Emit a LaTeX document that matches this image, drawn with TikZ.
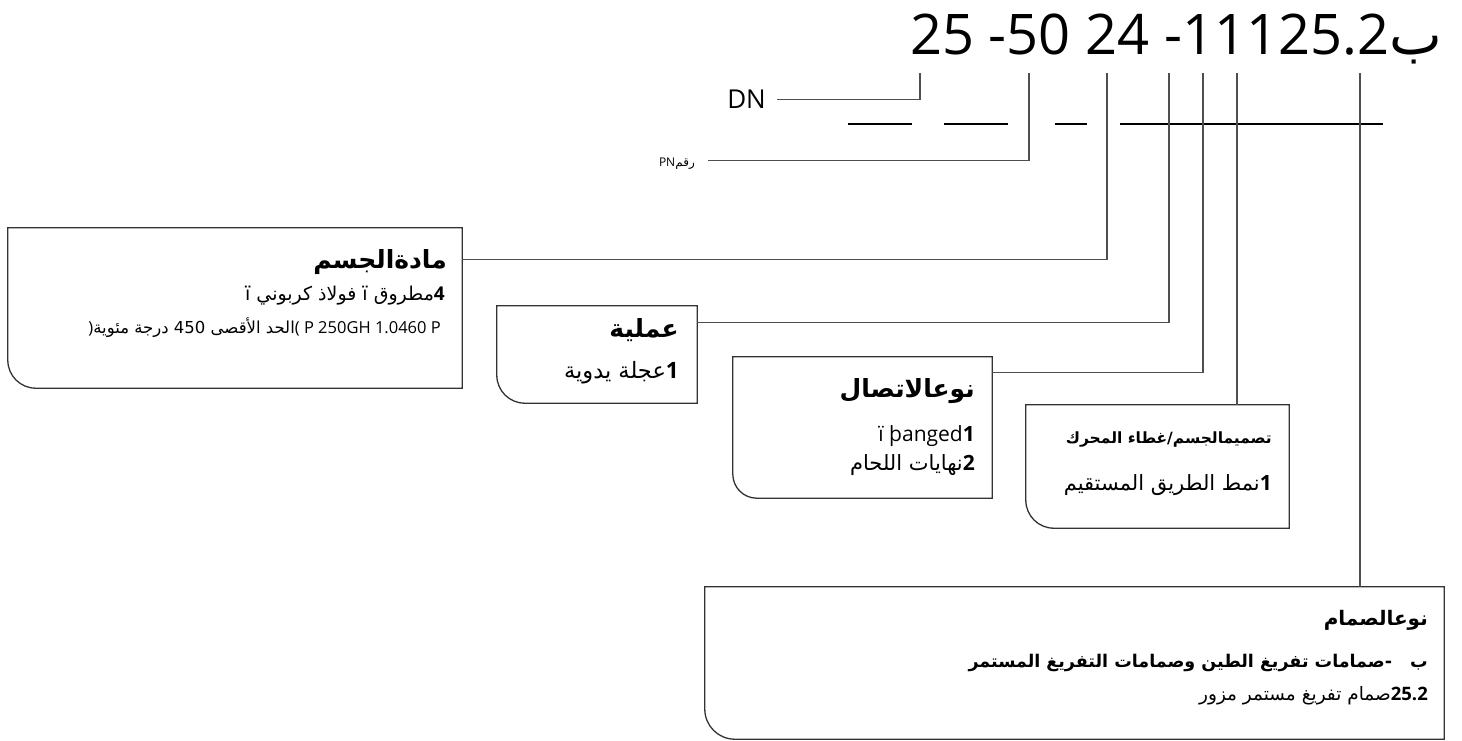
\documentclass[tikz,border=0pt]{standalone}
\usepackage{fontspec}
\usepackage{tikz}
\usetikzlibrary{positioning}
\setmainfont{Open Sans}
\newfontfamily\arabicfont[Script=Arabic]{DejaVu Sans}
\TeXXeTstate=1
\definecolor{LeadGray}{HTML}{4F4F4F}
\definecolor{CardEdge}{HTML}{333333}
\newcommand{\cardedge}[2][28pt]{%
  \draw[cardline] (#2.north west) -- (#2.north east) -- (#2.south east)
    -- ([xshift=#1]#2.south west) arc[start angle=270, end angle=180, radius=#1] -- cycle;}
\tikzset{
  card/.style={draw=none, inner sep=0pt},
  cardline/.style={draw=CardEdge, line width=1.3pt},
  lead/.style={draw=LeadGray, line width=1.2pt},
  blank/.style={draw=black, line width=2.4pt},
  codetext/.style={inner sep=0pt, anchor=base west, font=\fontsize{56}{60}\selectfont},
  tag/.style={inner sep=0pt, anchor=base east},
  bighead/.style={tag, font=\arabicfont\bfseries\fontsize{25}{28}\selectfont},
  smallhead/.style={tag, font=\arabicfont\bfseries\fontsize{15.5}{19}\selectfont},
  entry/.style={tag, font=\fontsize{21}{24}\selectfont},
  fine/.style={tag, font=\fontsize{16.5}{19}\selectfont}
}

\begin{document}
\begin{tikzpicture}[x=1pt, y=-1pt]
  \useasboundingbox (0,0) rectangle (1462,741);
  % order code
  \node[codetext] (code) at (910,55) {25 -50 24 -11125.2{\arabicfont ب}};
  \foreach \a/\b in {848/912, 944/1008, 1055/1087, 1120/1383}
    \draw[blank] (\a,124) -- (\b,124);
  \coordinate (t25) at (920,73);
  \coordinate (t50) at (1029,73);
  \coordinate (t24) at (1107,73);
  \coordinate (t11a) at (1169,73);
  \coordinate (t11b) at (1203,73);
  \coordinate (t11c) at (1237,73);
  \coordinate (tval) at (1360,73);

  \node[tag, font=\fontsize{26}{30}\selectfont] (dn) at (766,109) {DN};
  \node[tag, font=\fontsize{12}{14}\selectfont] (pn) at (695,167) {PN{\arabicfont\beginR رقم\endR}};

  % cards
  \node[card, minimum width=454pt, minimum height=160pt] (matbox) at (235,308) {};
  \node[card, minimum width=200pt, minimum height=97pt] (opbox) at (597,354.5) {};
  \node[card, minimum width=259pt, minimum height=141pt] (conbox) at (862.5,427.5) {};
  \node[card, minimum width=263pt, minimum height=123pt] (desbox) at (1157.5,466.5) {};
  \node[card, minimum width=739pt, minimum height=152pt] (typebox) at (1074.5,663) {};
  \cardedge{matbox}
  \cardedge{opbox}
  \cardedge[24pt]{conbox}
  \cardedge{desbox}
  \cardedge[30pt]{typebox}

  % body material
  \node[bighead] (mathead) at (447,268) {\beginR مادةالجسم\endR};
  \node[entry, font=\fontsize{19}{22}\selectfont] (matone) at (445,300) {\beginR\textbf{4}{\arabicfont مطروق ï فولاذ كربوني ï}\endR};
  \node[fine] (mattwo) at (441,333) {){\arabicfont\beginR الحد الأقصى 450 درجة مئوية\endR}( P 250GH 1.0460 P};
  % operation
  \node[bighead] (ophead) at (679,337) {\beginR عملية\endR};
  \node[entry, font=\fontsize{22.5}{26}\selectfont] (opone) at (679,378) {\beginR\textbf{1}{\arabicfont عجلة يدوية}\endR};
  % connection
  \node[bighead] (conhead) at (975,397) {\beginR نوعالاتصال\endR};
  \node[entry] (conone) at (975,441) {ï þanged\textbf{1}};
  \node[entry] (contwo) at (975,470) {\beginR\textbf{2}{\arabicfont نهايات اللحام}\endR};
  % body design / bonnet
  \node[smallhead] (deshead) at (1272,443) {\beginR تصميمالجسم/غطاء المحرك\endR};
  \node[entry] (desone) at (1272,490) {\beginR\textbf{1}{\arabicfont نمط الطريق المستقيم}\endR};
  % valve type
  \node[tag, font=\arabicfont\bfseries\fontsize{20}{24}\selectfont] (typehead) at (1428,625) {\beginR نوعالصمام\endR};
  \node[tag, font=\arabicfont\bfseries\fontsize{17.5}{21}\selectfont] (typeone) at (1428,667)
    {\beginR ب\hspace{18pt}-صمامات تفريغ الطين وصمامات التفريغ المستمر\endR};
  \node[entry, font=\fontsize{18.5}{22}\selectfont] (typetwo) at (1428,700)
    {\beginR\textbf{25.2}{\arabicfont صمام تفريغ مستمر مزور}\endR};

  % leaders
  \draw[lead] (t25) |- ([xshift=11pt]dn.east);
  \draw[lead] (t50) |- ([xshift=13pt, yshift=4pt]pn.east);
  \draw[lead] (t24) |- ([yshift=-32pt]matbox.north east);
  \draw[lead] (t11a) |- ([yshift=-17pt]opbox.north east);
  \draw[lead] (t11b) |- ([yshift=-16pt]conbox.north east);
  \draw[lead] (t11c) -- (t11c |- desbox.north);
  \draw[lead] (tval) -- (tval |- typebox.north);
\end{tikzpicture}
\end{document}
